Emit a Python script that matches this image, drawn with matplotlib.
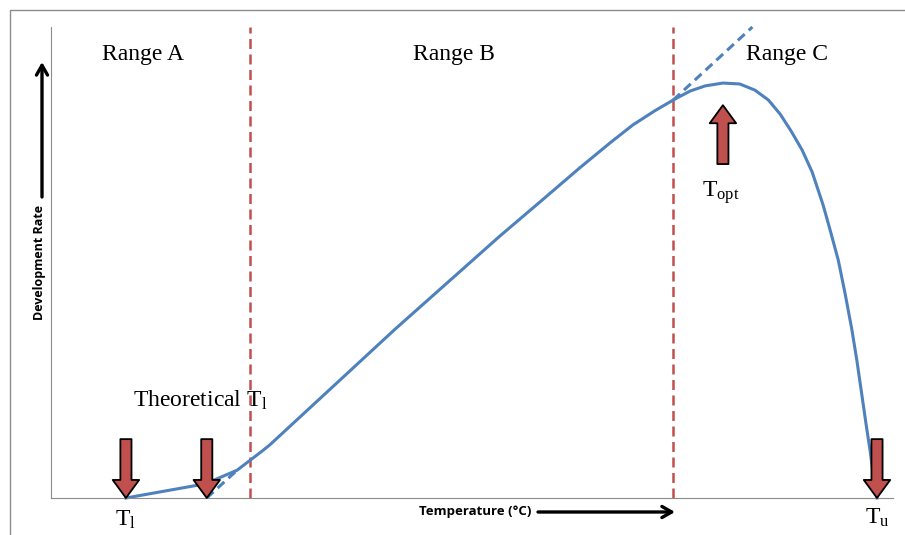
import numpy as np
import matplotlib
matplotlib.use("Agg")
import matplotlib.pyplot as plt
from matplotlib.patches import FancyArrowPatch, Rectangle

plt.rcParams["mathtext.fontset"] = "custom"
plt.rcParams["mathtext.rm"] = "Liberation Serif"
plt.rcParams["mathtext.it"] = "Liberation Serif:italic"

# development rate curve (temperature, rate) in arbitrary units
temp = [8.9, 18.3, 22.1, 25.1, 26.0, 40.9, 53.3, 58.1, 62.8, 66.4, 69.1, 71.7,
        73.9, 75.9, 77.7, 79.8, 81.8, 83.6, 85.2, 86.6, 87.9, 89.2, 90.4, 91.7,
        92.5, 93.5, 94.3, 95.1, 95.7, 96.3, 96.8, 97.3, 97.7, 98.1]
rate = [0.0, 3.0, 5.9, 10.0, 11.3, 35.9, 55.6, 62.9, 70.1, 75.4, 79.2, 82.2,
        84.5, 86.4, 87.5, 88.1, 87.9, 86.6, 84.5, 81.5, 77.9, 73.9, 69.2, 62.2,
        57.1, 50.5, 43.5, 35.9, 29.3, 21.9, 15.7, 9.8, 4.2, 0.0]

# linear extrapolations
lin_low_t = [18.5, 22.1]
lin_low_r = [0.0, 5.9]
lin_high_t = [73.9, 83.3]
lin_high_r = [84.5, 100.0]

# range boundaries
bounds = [23.6, 73.9]

# thresholds
t_lower = 8.9
t_theor = 18.5
t_upper = 98.1
t_opt = 79.8

blue = "#4F81BD"
red = "#C0504D"
grey = "#8C8C8C"
serif = "Liberation Serif"

fig = plt.figure(figsize=(9.05, 5.35), dpi=100)
ax = fig.add_axes([51 / 905, 37 / 535, 842 / 905, 471 / 535])
ax.set_xlim(0, 100)
ax.set_ylim(0, 100)
ax.set_xticks([])
ax.set_yticks([])
for s in ["top", "right"]:
    ax.spines[s].set_visible(False)
for s in ["left", "bottom"]:
    ax.spines[s].set_color(grey)
    ax.spines[s].set_linewidth(0.8)

# outer frame
fig.patches.append(Rectangle((10 / 905, -0.1), 1.1, (525 / 535) + 0.1,
                             transform=fig.transFigure, fill=False,
                             edgecolor=grey, linewidth=1.0))

for b in bounds:
    ax.plot([b, b], [0, 100], color=red, lw=1.8, dashes=(4, 2.2), clip_on=False)

ax.plot(temp, rate, color=blue, lw=2.2, solid_joinstyle="round", clip_on=False)
ax.plot(lin_low_t, lin_low_r, color=blue, lw=2.2, dashes=(3, 1.8))
ax.plot(lin_high_t, lin_high_r, color=blue, lw=2.2, dashes=(3, 1.8), clip_on=False)

style = "simple,head_length=13,head_width=19,tail_width=8"
def block_arrow(x, y0, y1):
    a = FancyArrowPatch((x, y0), (x, y1), arrowstyle=style, mutation_scale=1,
                        facecolor=red, edgecolor="black", linewidth=1.3,
                        shrinkA=0, shrinkB=0, zorder=5, clip_on=False)
    ax.add_patch(a)

for t in [t_lower, t_theor, t_upper]:
    block_arrow(t, 12.5, 0.0)
block_arrow(t_opt, 70.9, 83.4)

# labels
for x, lab in [(10.9, "Range A"), (47.9, "Range B"), (87.4, "Range C")]:
    ax.text(x, 94.1, lab, family=serif, fontsize=17, ha="center", va="center")
ax.text(17.7, 20.8, r"Theoretical T$_\mathrm{l}$", family=serif, fontsize=17,
        ha="center", va="center")
ax.text(t_lower, -4.7, r"T$_\mathrm{l}$", family=serif, fontsize=17,
        ha="center", va="center")
ax.text(79.5, 64.8, r"T$_\mathrm{opt}$", family=serif, fontsize=17,
        ha="center", va="center")
ax.text(t_upper, -4.2, r"T$_\mathrm{u}$", family=serif, fontsize=17,
        ha="center", va="center")

# axis titles with arrows
fig.text(475 / 905, 1 - 512 / 535, "Temperature (°C)", family="Open Sans",
         weight="bold", fontsize=9.5, ha="center", va="center")
fig.text(40 / 905, 1 - 263 / 535, "Development Rate", family="Open Sans",
         weight="bold", fontsize=9, ha="center", va="center", rotation=90)
ax.annotate("", xy=(675 / 905, 1 - 512 / 535), xytext=(538 / 905, 1 - 512 / 535),
            xycoords="figure fraction", textcoords="figure fraction",
            arrowprops=dict(arrowstyle="->,head_length=0.7,head_width=0.4",
                            lw=2.4, color="black", shrinkA=0, shrinkB=0))
ax.annotate("", xy=(42 / 905, 1 - 62 / 535), xytext=(42 / 905, 1 - 197 / 535),
            xycoords="figure fraction", textcoords="figure fraction",
            arrowprops=dict(arrowstyle="->,head_length=0.7,head_width=0.4",
                            lw=2.4, color="black", shrinkA=0, shrinkB=0))

fig.savefig("out.png", dpi=100)
